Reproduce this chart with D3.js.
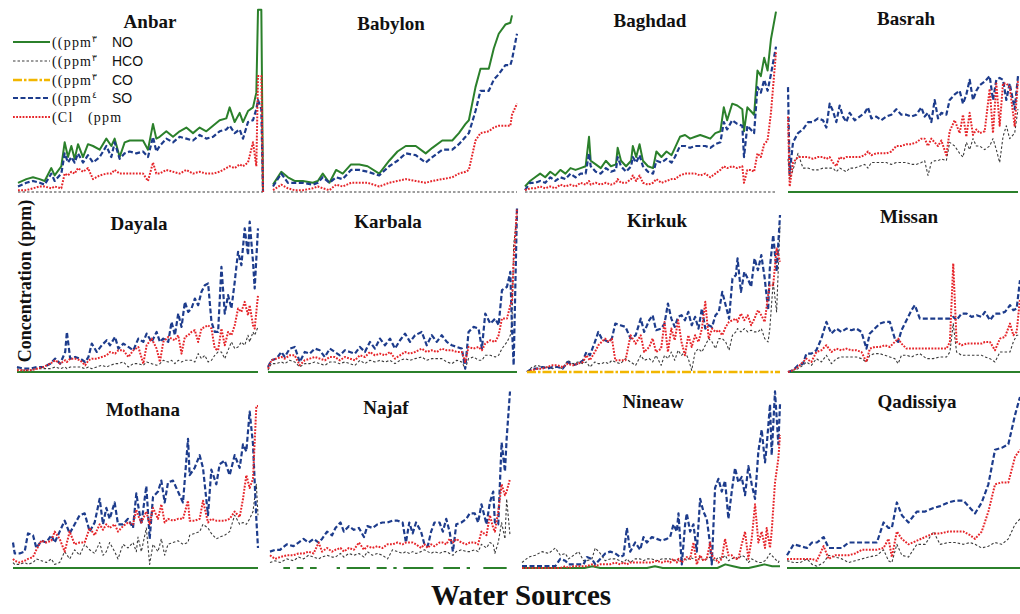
<!DOCTYPE html>
<html><head><meta charset="utf-8">
<script src="https://cdn.jsdelivr.net/npm/d3@7"></script>
<style>body{margin:0;background:#fff}svg{display:block}</style>
</head><body>
<svg id="c" width="1020" height="614"></svg>
<script>
// ---------------- DATA ----------------
const regions = ["Anbar","Babylon","Baghdad","Basrah","Dayala","Karbala","Kirkuk","Missan","Mothana","Najaf","Nineaw","Qadissiya"];
const ions = ["NO3","HCO3","CO3","SO4","Cl"];
const legendPrefix = ["((ppm","((ppm","((ppm","((ppm","(Cl"];
const legendDigit = ["٣","٣","٣","٤",""];
const legendIon = ["NO","HCO","CO","SO","(ppm"];
const yTitle = "Concentration (ppm)";
const xTitle = "Water Sources";

// relative concentration (% of panel maximum) by water source number
const anbarSrc = [1,6,10,14,17,21,23,27,29,31,33,35,37,40,43,46,50,54,57,59,62,65,68,72,76,79,82,84,86,90,94,98,102,106,110,114,118,122,126,128,131,134,136,139,142,144,145,147,148];
const anbarNO3 = [5,7,8,7,6,13,9,14,27,19,25,18,26,19,26,25,23,29,25,29,19,27,28,28,28,23,37,29,30,33,30,33,35,32,35,33,36,39,40,46,38,43,38,44,46,54,99,99,0];
const anbarSO4 = [3,5,6,5,4,10,6,10,21,16,19,16,21,16,20,16,19,25,19,27,18,21,22,21,22,19,30,22,25,29,27,30,29,28,31,29,30,33,34,36,32,34,29,38,39,45,50,45,0];
const anbarCl  = [1,1,2,3,3,2,3,2,10,9,11,10,13,11,13,7,9,10,10,12,10,10,10,10,10,6,16,10,10,12,11,10,12,10,11,10,10,11,13,14,13,15,14,16,27,14,63,63,0];
const anbarHCO3 = [0,0,0,0,0,0,0,0,0,0,0,0,0,0,0,0,0,0,0,0];

const babylonSrc = [1,6,10,14,19,25,28,31,35,39,43,48,53,58,65,71,76,81,87,93,97,103,109,113,117,119,123,126,131,134,137,141,144,145,148];
const babylonNO3 = [4,11,8,6,6,5,6,10,5,12,10,15,15,14,10,17,22,25,25,21,24,28,28,32,37,39,57,67,67,78,86,91,92,96,null];
const babylonSO4 = [3,10,5,5,5,4,5,8,5,8,7,12,12,11,9,14,17,21,20,16,19,23,23,26,30,32,44,55,55,61,64,69,69,72,86];
const babylonCl  = [1,4,2,1,1,2,3,2,1,4,3,5,5,5,3,5,6,7,6,5,6,7,8,10,11,12,28,32,33,35,36,36,36,42,48];
const babylonHCO3 = [0,0,0,0,0,0,0,0,0,0,0,0,0,0,0,0,0,0,0,0];

const baghdadSrc = [1,4,7,10,13,16,19,22,25,28,31,34,37,39,40,43,46,49,52,55,56,58,61,64,65,67,69,71,74,77,79,82,85,88,90,93,96,99,102,105,108,111,114,117,119,121,124,127,130,131,133,135,137,139,141,143,145,147,150];
const baghdadNO3 = [3,6,8,10,8,11,9,12,10,13,12,13,14,30,17,15,13,17,14,15,24,17,14,17,25,19,26,17,14,13,22,19,22,20,24,30,31,29,30,31,30,29,32,33,46,39,48,47,45,33,46,44,42,66,63,73,66,83,98];
const baghdadSO4 = [1,5,5,6,5,8,6,8,7,10,8,10,10,21,14,11,10,13,11,12,19,14,11,14,19,16,20,14,11,10,17,16,18,16,19,25,25,24,25,25,25,24,26,27,38,34,39,37,36,19,36,34,32,57,54,61,55,64,79];
const baghdadCl  = [1,2,2,3,2,3,2,4,3,4,3,5,4,6,4,5,4,5,4,5,7,5,5,7,9,6,9,5,4,5,7,5,6,7,7,9,10,10,10,9,10,8,10,12,14,13,14,13,14,5,12,12,11,21,19,26,28,43,76];
const baghdadHCO3 = [0,0,0,0,0,0,0,0,0,0,0,0,0,0,0,0,0,0,0,0];

const basrahSrc = [1,2,4,7,10,13,16,19,22,24,26,28,30,32,34,36,38,41,44,47,49,51,54,57,60,63,66,69,72,75,78,81,83,85,87,89,91,93,96,98,101,104,106,108,110,112,114,116,119,122,124,126,128,130,132,134,137,139];
const basrahSO4 = [57,10,27,32,34,38,38,40,39,35,48,44,38,47,41,38,43,39,41,43,46,40,41,39,41,42,45,42,42,41,42,46,41,43,38,50,40,43,42,50,53,55,48,53,61,50,55,58,60,63,50,61,62,61,50,59,45,63];
const basrahCl  = [41,3,16,19,19,19,18,19,19,18,19,16,14,19,18,19,19,19,19,20,22,20,21,21,21,22,25,25,26,26,27,29,29,25,29,27,25,28,20,33,39,32,42,30,43,31,34,32,33,56,32,59,36,59,59,57,36,61];
const basrahHCO3 = [18,7,12,21,13,13,12,12,13,13,13,13,11,13,12,11,13,13,14,15,13,16,16,16,16,15,16,16,16,15,15,16,17,9,16,17,17,18,17,27,25,21,19,27,23,29,25,25,23,25,29,23,16,30,36,29,32,45];
const basrahNO3 = [0,0,0,0,0,0,0,0,0,0];

const dayalaSrc = [1,5,9,13,17,21,24,27,30,31,33,36,39,42,44,46,49,52,55,57,60,62,65,68,71,74,77,79,82,85,87,89,92,94,96,98,100,102,104,106,108,110,112,114,116,118,120,122,124,126,128,130,132,134,136,138,140,141,143,144,146];
const dayalaSO4 = [3,2,2,3,3,5,8,5,12,24,8,9,8,6,9,17,12,16,19,16,21,14,17,15,13,20,18,23,18,24,18,20,18,30,22,35,27,42,36,38,44,40,48,52,53,30,24,24,63,35,46,38,54,72,64,86,70,90,66,50,86];
const dayalaCl  = [1,1,1,2,3,5,7,5,7,6,8,8,7,4,7,8,8,9,10,12,11,13,13,9,13,15,5,16,20,14,6,18,21,20,19,22,11,21,22,24,25,18,26,27,28,26,14,13,26,16,24,22,28,38,36,42,34,40,28,26,46];
const dayalaHCO3 = [2,1,1,2,2,2,3,2,3,2,3,3,3,2,3,2,3,4,3,4,5,5,6,3,5,5,4,6,5,4,5,7,6,7,5,7,6,7,7,7,6,11,8,10,6,7,10,12,12,8,13,18,14,15,18,16,22,18,24,22,27];
const dayalaNO3 = [0,0,0,0,0,0,0,0,0,0];

const karbalaSrc = [1,3,6,9,11,14,17,20,23,26,29,32,35,38,41,44,47,50,53,56,59,62,65,68,71,74,77,80,83,86,89,93,96,99,102,105,108,111,114,117,119,121,124,127,129,131,134,137,139,141,144,146,147,148,150];
const karbalaSO4 = [3,7,8,12,9,14,15,6,12,11,14,13,9,14,12,10,13,12,11,15,12,18,14,20,16,20,14,19,23,18,22,24,16,22,18,22,18,16,15,14,2,24,27,26,14,35,29,32,28,49,51,60,26,4,98];
const karbalaCl  = [2,7,8,9,8,10,10,4,7,8,9,8,7,9,9,7,9,8,7,10,9,12,10,11,10,12,8,10,12,11,12,14,12,13,12,14,13,13,12,12,6,15,14,15,13,17,19,18,22,32,32,40,42,66,98];
const karbalaHCO3 = [1,5,5,6,5,7,6,3,5,5,6,5,4,6,6,5,6,5,4,7,5,7,6,7,6,7,5,7,8,7,8,9,7,8,8,8,6,5,7,6,2,8,9,7,7,10,10,9,10,14,18,22,30,76,94];
const karbalaNO3 = [0,0,0,0,0,0,0,0,0,0];

const kirkukSrc = [1,4,7,10,13,16,19,22,25,28,31,34,36,38,41,43,45,47,49,51,53,56,59,62,65,68,70,73,75,77,80,82,84,86,88,90,92,94,96,98,100,102,104,106,108,110,112,114,116,118,120,122,124,125,127,129,131,133,135,137,139,141,143,144,146,148,150];
const kirkukSO4 = [0,2,2,3,2,3,3,2,6,4,5,7,12,10,18,24,20,19,18,20,29,28,27,20,22,32,24,31,34,25,26,29,41,32,27,33,34,31,36,28,33,26,38,26,28,27,34,36,48,40,32,56,58,68,48,60,56,51,68,61,70,56,37,62,82,60,94];
const kirkukCl  = [0,1,2,2,3,4,4,3,5,4,5,6,10,7,12,16,18,20,18,20,7,7,7,22,17,22,12,15,20,12,14,30,12,26,19,31,18,10,22,15,22,18,26,42,20,26,24,25,22,27,30,31,32,30,35,31,34,28,32,37,34,30,46,52,52,74,66];
const kirkukHCO3 = [0,3,4,3,3,2,3,2,7,5,6,5,6,3,6,5,5,6,5,7,6,5,8,6,4,10,7,8,6,10,4,10,8,12,7,13,10,12,8,1,12,14,12,16,20,18,14,20,20,18,13,22,24,26,24,26,24,25,24,24,26,20,18,26,54,36,88];
const kirkukCO3 = [0,0,0,0,0,0,0,0,0,0];

const missanSrc = [1,4,7,10,12,15,18,21,24,27,30,33,36,39,42,45,48,50,53,56,59,62,65,67,69,72,75,77,80,84,88,92,96,98,100,102,105,108,111,114,117,119,122,125,128,131,134,136,138,140];
const missanSO4 = [0,1,4,5,11,11,13,20,30,23,26,24,26,25,26,24,14,23,26,29,30,30,20,18,25,31,37,40,32,32,32,32,32,32,33,31,35,35,33,34,33,36,31,35,35,36,40,37,38,55];
const missanCl  = [0,1,3,6,8,6,12,13,16,12,14,13,14,13,13,12,6,14,15,15,16,15,18,20,17,14,14,14,14,14,14,14,14,18,65,18,16,17,17,17,17,18,18,13,20,21,29,22,24,44];
const missanHCO3 = [0,1,2,4,6,4,8,6,10,5,8,9,9,9,9,8,6,10,11,11,10,9,8,5,10,10,9,10,11,8,8,9,9,12,29,12,10,10,10,10,10,9,8,6,12,12,12,18,22,22];
const missanNO3 = [0,0,0,0,0,0,0,0,0,0];

const mothanaSrc = [1,2,5,8,10,13,15,18,21,24,26,29,32,35,38,41,44,47,50,53,55,57,59,62,64,67,70,73,75,76,78,81,83,85,88,90,92,94,97,100,103,106,107,110,113,115,118,120,123,125,128,131,134,137,139,141,143,145,147,148];
const mothanaSO4 = [14,8,8,9,19,18,11,15,14,18,14,20,26,19,24,29,30,20,25,38,24,33,27,36,24,24,27,22,41,35,24,45,16,39,42,48,36,47,48,42,36,71,51,55,62,55,29,54,46,57,59,51,62,55,68,64,86,68,27,11];
const mothanaCl  = [5,4,3,4,5,6,10,15,14,15,20,16,9,20,13,14,14,22,18,24,21,24,22,24,20,23,25,24,32,29,25,31,24,33,27,35,25,27,26,27,27,37,26,26,27,37,25,27,26,26,26,27,31,28,38,51,44,49,89,89];
const mothanaHCO3 = [3,2,2,3,2,3,5,4,3,5,2,3,9,5,10,7,13,10,8,14,7,9,14,9,5,13,11,14,9,17,9,22,2,13,9,16,7,13,14,15,13,14,18,19,20,24,22,19,16,17,18,20,29,24,25,24,27,31,46,29];
const mothanaNO3 = [0,0,0,0,0,0,0,0,0,0];

const najafSrc = [1,4,7,11,15,18,21,24,27,30,32,35,38,40,43,45,48,51,54,57,59,62,65,68,71,74,77,80,82,84,86,88,91,93,95,97,99,102,104,106,108,110,112,115,118,120,123,125,127,130,132,134,135,137,139,141,142,144];
const najafSO4 = [9,10,10,13,12,14,16,14,16,14,16,20,18,22,25,20,23,21,22,17,23,22,24,25,25,26,26,25,14,25,19,25,20,13,12,20,25,25,20,27,20,9,24,25,27,30,30,25,35,24,36,42,25,24,69,53,71,97];
const najafCl  = [7,5,6,7,7,8,8,9,8,14,9,11,9,10,11,9,11,10,14,10,12,11,12,11,13,13,14,13,14,14,14,13,11,13,11,13,12,14,14,13,16,14,16,14,13,14,14,13,20,18,29,22,20,31,46,40,42,49];
const najafHCO3 = [3,4,3,5,4,6,5,7,6,5,6,7,6,6,8,6,8,7,8,6,9,7,8,7,5,10,9,8,9,8,9,8,9,10,9,8,9,8,9,9,8,7,9,10,9,9,10,9,13,11,14,13,8,14,25,16,38,18];
const najafNO3 = [null,null,null,null,0,0,0,null,0,0,0,null,0,0,0,null,0,null,null,null,
                  0,0,null,0,0,0,0,0,0,0,0,null,0,0,0,0,null,0,0,null,
                  0,0,0,0,0,0,0,0,0,0,null,null,0,0,0,0,0,0,null,0,
                  0,null,null,null,0,0,0,0,0,0,0,0,null];

const nineawSrc = [1,5,9,13,17,21,24,27,29,32,35,38,40,43,45,48,51,54,57,60,62,64,66,69,72,74,76,79,82,85,88,90,92,94,95,97,99,100,102,104,106,108,110,112,114,115,117,119,121,123,125,127,129,131,133,135,137,139,141,143,145,147,148,150,151,153,155,156];
const nineawSO4 = [1,1,1,1,1,1,5,4,2,2,2,2,6,5,2,5,8,9,8,6,7,22,9,14,10,17,14,17,16,15,16,17,24,20,30,2,24,30,20,24,9,38,31,27,13,2,44,49,42,48,27,42,55,47,50,40,56,46,38,64,76,58,67,90,62,97,68,90];
const nineawCl  = [0,0,0,0,0,0,0,1,0,1,1,1,1,2,1,2,2,2,3,2,3,2,3,3,3,3,3,3,4,3,4,3,5,3,5,3,5,6,5,14,2,7,4,5,14,7,5,3,5,16,7,7,5,5,13,20,5,16,35,14,20,11,22,11,20,47,60,73];
const nineawHCO3 = [3,6,7,9,8,11,7,8,5,7,9,4,4,5,11,8,4,5,5,4,3,5,3,5,5,4,5,5,4,5,5,5,4,5,4,5,5,4,6,5,4,6,4,5,6,5,4,6,5,7,4,5,6,5,7,6,3,5,4,3,3,4,5,8,7,5,3,5];
const nineawNO3 = [0,0,0,0,0,0,0,0,0,1,0,0,0,0,0,0,0,1,0,0,0,0,0,0,0,0,2,1,0,0,1,2,1,1];

const qadissiyaSrc = [1,5,9,13,16,19,23,26,30,34,38,42,46,50,55,59,62,64,67,70,74,79,84,89,93,98,102,107,111,114,118,122,126,130,134,138,141];
const qadissiyaSO4 = [7,13,12,11,14,14,17,11,11,11,14,14,14,14,14,25,22,22,36,29,25,31,31,33,34,36,37,37,33,30,36,46,65,66,68,84,94];
const qadissiyaCl  = [5,5,5,5,5,4,12,5,7,7,7,8,10,10,10,11,16,6,20,16,13,15,17,19,19,20,20,20,18,16,20,31,46,47,47,61,65];
const qadissiyaHCO3 = [4,3,3,5,2,1,3,7,6,5,3,4,5,6,7,10,4,3,13,7,6,13,13,20,13,14,14,13,14,13,11,12,14,13,16,24,27];
const qadissiyaNO3 = [0,0,0,0,0,0,0,0,0,0];

// table built from the arrays above
const panels = [
  {src:anbarSrc, s:{NO3:anbarNO3, HCO3:anbarHCO3, SO4:anbarSO4, Cl:anbarCl}},
  {src:babylonSrc, s:{NO3:babylonNO3, HCO3:babylonHCO3, SO4:babylonSO4, Cl:babylonCl}},
  {src:baghdadSrc, s:{NO3:baghdadNO3, HCO3:baghdadHCO3, SO4:baghdadSO4, Cl:baghdadCl}},
  {src:basrahSrc, s:{NO3:basrahNO3, HCO3:basrahHCO3, SO4:basrahSO4, Cl:basrahCl}},
  {src:dayalaSrc, s:{NO3:dayalaNO3, HCO3:dayalaHCO3, SO4:dayalaSO4, Cl:dayalaCl}},
  {src:karbalaSrc, s:{NO3:karbalaNO3, HCO3:karbalaHCO3, SO4:karbalaSO4, Cl:karbalaCl}},
  {src:kirkukSrc, s:{HCO3:kirkukHCO3, SO4:kirkukSO4, Cl:kirkukCl, CO3:kirkukCO3}},
  {src:missanSrc, s:{NO3:missanNO3, HCO3:missanHCO3, SO4:missanSO4, Cl:missanCl}},
  {src:mothanaSrc, s:{NO3:mothanaNO3, HCO3:mothanaHCO3, SO4:mothanaSO4, Cl:mothanaCl}},
  {src:najafSrc, s:{NO3:najafNO3, HCO3:najafHCO3, SO4:najafSO4, Cl:najafCl}},
  {src:nineawSrc, s:{NO3:nineawNO3, HCO3:nineawHCO3, SO4:nineawSO4, Cl:nineawCl}},
  {src:qadissiyaSrc, s:{NO3:qadissiyaNO3, HCO3:qadissiyaHCO3, SO4:qadissiyaSO4, Cl:qadissiyaCl}}
];

// ---------------- LAYOUT / STYLE ----------------
const rowGeom = [{base:192,top:8},{base:372,top:205},{base:568,top:386}];
const colRange = [[18,263],[273,517],[525,776],[788,1018],[17,258],[268,517],[527,780],[788,1020],[13,258],[270,510],[522,780],[787,1020]];
const titlePos = [[150,28],[391,30],[650,27],[906,25],[139,230],[388,228],[657,227],[909,223],[143,416],[386,414],[653,408],[917,408]];
const style = {
  NO3:{stroke:"#2b802b", w:2, dash:null},
  HCO3:{stroke:"#3c3c3c", w:1.1, dash:"2.5,2"},
  CO3:{stroke:"#f2b600", w:2.6, dash:"9,2,2.5,2"},
  SO4:{stroke:"#1d3c8c", w:2.2, dash:"5,2.5"},
  Cl:{stroke:"#e6252a", w:2, dash:"1.8,1.4"}
};
const drawOrder = ["NO3","HCO3","SO4","Cl","CO3"];
const serif = "'Liberation Serif','Times New Roman',serif";
const sans = "'Liberation Sans',Arial,sans-serif";

const svg = d3.select("#c");
svg.append("rect").attr("width",1020).attr("height",614).attr("fill","#fff");

panels.forEach((p, i) => {
  const g = rowGeom[Math.floor(i / 4)];
  const src = p.src;
  const x = d3.scaleLinear().domain([src[0], src[src.length - 1]]).range(colRange[i]);
  const y = d3.scaleLinear().domain([0, 100]).range([g.base, g.top]);
  const line = d3.line().defined(d => d.v != null).x(d => x(d.x)).y(d => y(d.v));
  const pg = svg.append("g").attr("class", "panel");
  drawOrder.forEach(ion => {
    const vals = p.s[ion];
    if (!vals) return;
    const n = vals.length;
    const pts = vals.map((v, k) => ({
      x: n === src.length ? src[k] : src[0] + k * (src[src.length - 1] - src[0]) / (n - 1),
      v
    }));
    const st = style[ion];
    pg.append("path").datum(pts).attr("d", line)
      .attr("fill", "none").attr("stroke", st.stroke).attr("stroke-width", st.w)
      .attr("stroke-dasharray", st.dash).attr("stroke-linejoin", "round");
  });
  svg.append("text").attr("x", titlePos[i][0]).attr("y", titlePos[i][1])
    .attr("text-anchor", "middle").attr("font-family", serif).attr("font-weight", "bold")
    .attr("font-size", 19).attr("fill", "#111").text(regions[i]);
});

// legend (inside Anbar panel)
const legendY = [42, 61, 80, 98, 117];
const legendOrder = ["NO3","HCO3","CO3","SO4","Cl"];
legendOrder.forEach((ion, k) => {
  const st = style[ion];
  const ly = legendY[k];
  svg.append("line").attr("x1", 13).attr("x2", 50).attr("y1", ly).attr("y2", ly)
    .attr("stroke", st.stroke).attr("stroke-width", st.w).attr("stroke-dasharray", st.dash);
  const t = svg.append("text").attr("x", 52).attr("y", ly + 5)
    .attr("font-family", serif).attr("font-size", 14).attr("letter-spacing", 1.2).attr("fill", "#111");
  t.append("tspan").text(legendPrefix[k]);
  if (legendDigit[k]) t.append("tspan").attr("font-size", 9).attr("dy", -5).text(legendDigit[k]);
  svg.append("text").attr("x", k < 4 ? 112 : 88).attr("y", ly + 5)
    .attr("font-family", k < 4 ? sans : serif).attr("font-size", 14).attr("letter-spacing", k < 4 ? 0 : 1.2)
    .attr("fill", "#111").text(legendIon[k]);
});

// axis titles
svg.append("text").attr("transform", "translate(31,281) rotate(-90)")
  .attr("text-anchor", "middle").attr("font-family", serif).attr("font-weight", "bold")
  .attr("font-size", 18).attr("fill", "#111").text(yTitle);
svg.append("text").attr("x", 521).attr("y", 605)
  .attr("text-anchor", "middle").attr("font-family", serif).attr("font-weight", "bold")
  .attr("font-size", 29).attr("fill", "#111").text(xTitle);
</script>
</body></html>
